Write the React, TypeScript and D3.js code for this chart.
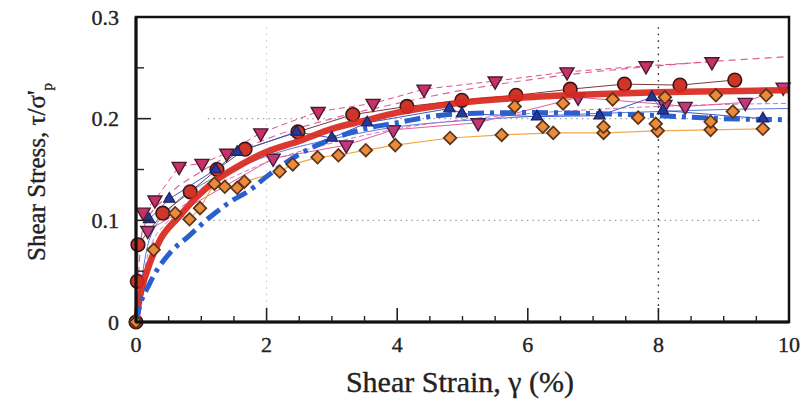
import React from "react";
import * as d3 from "d3";

// ---- axis ticks ----
const xTicks = [0, 2, 4, 6, 8, 10];
const xMinorTicks = [0.5, 1, 1.5, 2.5, 3, 3.5, 4.5, 5, 5.5, 6.5, 7, 7.5, 8.5, 9, 9.5];
const yTicks = [0, 0.1, 0.2, 0.3];
const yTickLabels = ["0", "0.1", "0.2", "0.3"];
const yMinorTicks = [0.05, 0.15, 0.25];

// ---- fitted thick curves ----
const redFitX = [0, 0.06, 0.19, 0.37, 0.65, 0.93, 1.24, 1.59, 1.95, 2.5, 3, 3.5, 4, 4.66, 5, 6, 7, 8, 9, 10];
const redFitY = [0, 0.025, 0.054, 0.081, 0.103, 0.123, 0.14, 0.154, 0.166, 0.178, 0.19, 0.198, 0.206, 0.213, 0.216, 0.221, 0.224, 0.226, 0.227, 0.228];
const blueFitX = [0, 0.03, 0.21, 0.52, 0.8, 1.13, 1.44, 1.75, 2, 2.5, 3, 3.5, 4, 4.5, 5, 6, 7, 8, 9, 10];
const blueFitY = [0, 0.009, 0.038, 0.068, 0.084, 0.103, 0.118, 0.13, 0.143, 0.165, 0.18, 0.19, 0.196, 0.202, 0.205, 0.206, 0.205, 0.203, 0.2, 0.199];

// ---- thin individual-test curves ----
const pinkDashX = [0, 0.1, 0.5, 1, 2, 3, 4, 5, 6, 7, 8, 9, 10];
const pinkDashY = [0, 0.09, 0.125, 0.148, 0.18, 0.2, 0.215, 0.228, 0.238, 0.246, 0.252, 0.257, 0.261];
const thinBlueX = [0, 0.2, 0.5, 1, 1.5, 2, 3, 4, 5, 6, 7, 8, 9, 10];
const thinBlueY = [0, 0.08, 0.11, 0.135, 0.15, 0.163, 0.18, 0.192, 0.198, 0.202, 0.205, 0.207, 0.209, 0.21];
const thinMagX = [0, 0.2, 0.5, 1, 1.5, 2, 3, 4, 5, 6, 7, 8, 9, 10];
const thinMagY = [0, 0.07, 0.1, 0.127, 0.143, 0.157, 0.176, 0.19, 0.199, 0.205, 0.209, 0.212, 0.214, 0.215];

// ---- measured data series ----
const circX = [0, 0.02, 0.03, 0.41, 0.83, 1.24, 1.67, 2.48, 3.32, 4.15, 4.99, 5.82, 6.65, 7.48, 8.33, 9.17];
const circY = [0, 0.04, 0.076, 0.107, 0.128, 0.15, 0.17, 0.187, 0.204, 0.212, 0.218, 0.223, 0.229, 0.234, 0.233, 0.238];

const triUpX = [0.11, 0.29, 0.66, 1.01, 1.39, 1.91, 2.79, 3.63, 4.41, 5.5, 6.6, 7.81, 8.82];
const triUpY = [0.108, 0.12, 0.153, 0.156, 0.166, 0.186, 0.207, 0.215, 0.229, 0.237, 0.246, 0.252, 0.256];

const triLowX = [0.18, 2.1, 3.22, 3.94, 5.24, 6.77, 8.1, 8.41, 9.33, 9.91];
const triLowY = [0.09, 0.161, 0.174, 0.189, 0.196, 0.221, 0.214, 0.212, 0.216, 0.231];

const blueTriX = [0.2, 0.51, 1.22, 1.55, 2.46, 3.0, 3.54, 4.8, 4.99, 6.14, 7.1, 7.9, 8.07, 9.6];
const blueTriY = [0.101, 0.121, 0.15, 0.167, 0.187, 0.181, 0.196, 0.21, 0.205, 0.202, 0.203, 0.221, 0.208, 0.2];

const diaLowX = [0, 0.27, 0.6, 0.82, 0.98, 1.2, 1.36, 1.55, 1.66, 2.2, 2.4, 2.78, 3.1, 3.52, 3.97, 4.81, 5.6, 6.39, 7.16, 7.99, 8.8, 9.6];
const diaLowY = [0, 0.071, 0.107, 0.101, 0.112, 0.136, 0.133, 0.132, 0.138, 0.148, 0.155, 0.162, 0.164, 0.169, 0.174, 0.181, 0.184, 0.186, 0.186, 0.188, 0.189, 0.19];
const diaMidX = [6.23, 7.16, 7.96, 8.8];
const diaMidY = [0.192, 0.192, 0.195, 0.197];
const diaUpX = [5.8, 6.54, 7.3, 8.1, 8.88, 9.65];
const diaUpY = [0.212, 0.215, 0.219, 0.221, 0.223, 0.223];
const diaExtraX = [7.69, 9.14];
const diaExtraY = [0.201, 0.207];

const W = 804;
const H = 402;
const M = { left: 136, right: 789, top: 17, bottom: 322 };

const x = d3.scaleLinear().domain([0, 10]).range([M.left, M.right]);
const y = d3.scaleLinear().domain([0, 0.3]).range([M.bottom, M.top]);

const zip = (xs: number[], ys: number[]) => xs.map((v, i) => [v, ys[i]] as [number, number]);

const smooth = d3
  .line<[number, number]>()
  .x((d) => x(d[0]))
  .y((d) => y(d[1]))
  .curve(d3.curveMonotoneX);
const straight = d3
  .line<[number, number]>()
  .x((d) => x(d[0]))
  .y((d) => y(d[1]));

const triPath = d3.symbol(d3.symbolTriangle, 85)()!;
const triSmall = d3.symbol(d3.symbolTriangle, 55)()!;
const sqPath = d3.symbol(d3.symbolSquare, 80)()!;

function Markers({
  xs,
  ys,
  kind,
  fill,
  stroke,
}: {
  xs: number[];
  ys: number[];
  kind: "circle" | "down" | "up" | "diamond";
  fill: string;
  stroke: string;
}) {
  return (
    <g>
      {xs.map((v, i) => {
        const cx = x(v);
        const cy = y(ys[i]);
        if (kind === "circle")
          return <circle key={i} cx={cx} cy={cy} r={6.8} fill={fill} stroke={stroke} strokeWidth={1.6} />;
        if (kind === "down")
          return (
            <path key={i} d={triPath} transform={`translate(${cx},${cy}) rotate(180)`} fill={fill} stroke={stroke} strokeWidth={1.4} />
          );
        if (kind === "up")
          return <path key={i} d={triSmall} transform={`translate(${cx},${cy})`} fill={fill} stroke={stroke} strokeWidth={1.2} />;
        return (
          <path key={i} d={sqPath} transform={`translate(${cx},${cy}) rotate(45)`} fill={fill} stroke={stroke} strokeWidth={1.7} />
        );
      })}
    </g>
  );
}

export default function App() {
  const font = "'Liberation Serif', 'DejaVu Serif', serif";
  const txt = { fill: "#222", stroke: "#222", strokeWidth: 0.35 };
  return (
    <svg width={W} height={H} style={{ position: "absolute", left: 0, top: 0, background: "#fff" }} fontFamily={font}>
      <rect x={0} y={0} width={W} height={H} fill="#fff" />
      {/* dotted grid */}
      {[0.1, 0.2].map((v) => (
        <line key={"gy" + v} x1={x(1.1)} x2={x(9.6)} y1={y(v)} y2={y(v)} stroke="#555" strokeWidth={1.2} strokeDasharray="1.5,4" opacity={0.55} />
      ))}
      <line x1={x(2)} x2={x(2)} y1={y(0.29)} y2={y(0.01)} stroke="#888" strokeWidth={1} strokeDasharray="1.5,5" opacity={0.5} />
      <line x1={x(8)} x2={x(8)} y1={y(0.29)} y2={y(0.01)} stroke="#333" strokeWidth={1.4} strokeDasharray="1.6,5" />

      {/* thin individual curves */}
      <path d={smooth(zip(pinkDashX, pinkDashY))!} fill="none" stroke="#e0609a" strokeWidth={1.2} strokeDasharray="7,5" />
      <path d={smooth(zip(thinBlueX, thinBlueY))!} fill="none" stroke="#5a78d8" strokeWidth={1} />
      <path d={smooth(zip(thinMagX, thinMagY))!} fill="none" stroke="#d870b8" strokeWidth={1} strokeDasharray="5,3" />

      {/* data connecting lines */}
      <path d={straight(zip(circX, circY))!} fill="none" stroke="#7a3a3a" strokeWidth={1} />
      <path d={straight(zip(triUpX, triUpY))!} fill="none" stroke="#e04e8e" strokeWidth={1} strokeDasharray="6,4" />
      <path d={straight(zip(triLowX, triLowY))!} fill="none" stroke="#e060a0" strokeWidth={1} />
      <path d={straight(zip(blueTriX, blueTriY))!} fill="none" stroke="#3a5ac8" strokeWidth={1} />
      <path d={straight(zip(diaLowX, diaLowY))!} fill="none" stroke="#f0a848" strokeWidth={1.2} />

      <Markers xs={circX} ys={circY} kind="circle" fill="#cc3528" stroke="#3a1515" />
      <Markers xs={triUpX} ys={triUpY} kind="down" fill="#c8306a" stroke="#4a1a2a" />
      <Markers xs={triLowX} ys={triLowY} kind="down" fill="#c03a78" stroke="#4a1a3a" />

      {/* thick fits */}
      <path d={smooth(zip(redFitX, redFitY))!} fill="none" stroke="#d8281e" strokeWidth={6.5} opacity={0.92} />
      <path d={smooth(zip(blueFitX, blueFitY))!} fill="none" stroke="#2a5fd0" strokeWidth={5} strokeDasharray="16,6,4,6" />

      <Markers xs={diaLowX} ys={diaLowY} kind="diamond" fill="#ec8a3c" stroke="#5a3418" />
      <Markers xs={diaMidX} ys={diaMidY} kind="diamond" fill="#ec8a3c" stroke="#5a3418" />
      <Markers xs={diaUpX} ys={diaUpY} kind="diamond" fill="#ec8a3c" stroke="#5a3418" />
      <Markers xs={diaExtraX} ys={diaExtraY} kind="diamond" fill="#ec8a3c" stroke="#5a3418" />
      <Markers xs={blueTriX} ys={blueTriY} kind="up" fill="#26389a" stroke="#1a2060" />

      {/* frame */}
      <rect x={M.left} y={M.top} width={M.right - M.left} height={M.bottom - M.top} fill="none" stroke="#111" strokeWidth={2.5} />
      <line x1={M.left} x2={M.left} y1={M.top} y2={M.bottom} stroke="#111" strokeWidth={3} />
      <line x1={M.left} x2={M.right} y1={M.bottom} y2={M.bottom} stroke="#111" strokeWidth={3} />

      {/* ticks */}
      {xTicks.slice(1, -1).map((v) => (
        <line key={"xt" + v} x1={x(v)} x2={x(v)} y1={M.bottom} y2={M.bottom - 14} stroke="#222" strokeWidth={1.6} />
      ))}
      {xMinorTicks.map((v) => (
        <line key={"xm" + v} x1={x(v)} x2={x(v)} y1={M.bottom} y2={M.bottom - 6} stroke="#222" strokeWidth={1.4} />
      ))}
      {yTicks.slice(1, -1).map((v) => (
        <line key={"yt" + v} x1={M.left} x2={M.left + 15} y1={y(v)} y2={y(v)} stroke="#222" strokeWidth={1.6} />
      ))}
      {yMinorTicks.map((v) => (
        <line key={"ym" + v} x1={M.left} x2={M.left + 8} y1={y(v)} y2={y(v)} stroke="#222" strokeWidth={1.4} />
      ))}

      {/* tick labels */}
      {xTicks.map((v) => (
        <text key={"xl" + v} x={x(v)} y={352} textAnchor="middle" fontSize={22} {...txt}>
          {v}
        </text>
      ))}
      {yTicks.map((v, i) => (
        <text key={"yl" + v} x={119} y={y(v) + 7.5} textAnchor="end" fontSize={22} {...txt}>
          {yTickLabels[i]}
        </text>
      ))}

      {/* axis titles */}
      <text x={460} y={392} textAnchor="middle" fontSize={30} {...txt}>
        Shear Strain, γ (%)
      </text>
      <text transform="translate(45,172) rotate(-90)" textAnchor="middle" fontSize={25} {...txt}>
        Shear Stress, τ/σ'
        <tspan fontSize={15} dy={7}>p</tspan>
      </text>
    </svg>
  );
}
